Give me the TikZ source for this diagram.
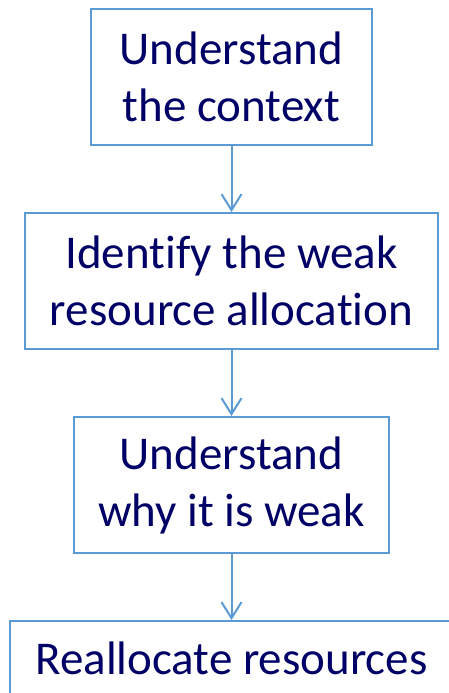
\documentclass[tikz,border=0pt]{standalone}
\usepackage{fontspec}
\setmainfont[Ligatures={NoCommon}]{Carlito}
\usepackage{tikz}
\usepackage{xcolor}
\usetikzlibrary{positioning,arrows.meta}
\definecolor{stepline}{HTML}{5B9BD5}
\definecolor{steptext}{HTML}{000066}
\tikzset{
    step-box/.style = {draw=stepline, line width=2pt, rectangle, minimum height=136pt, inner sep=0pt, align=center, text=steptext, font=\fontsize{47}{57}\selectfont},
    step-arrow/.style = {draw=stepline, line width=2pt, -{Straight Barb[length=16pt,width=20pt]}},
}

\begin{document}
\begin{tikzpicture}[x=1pt, y=-1pt]
\useasboundingbox (0,0) rectangle (448,693);
\node [step-box, minimum width=281pt] (context) at (231.5,77) {Understand\\the context};
\node [step-box, minimum width=413pt, below=66pt of context] (weak) {Identify the weak\\resource allocation};
\node [step-box, minimum width=315pt, below=66pt of weak] (why) {Understand\\why it is weak};
\node [step-box, minimum width=443pt, text height=34pt, text depth=64pt, below=66pt of why] (realloc) {Reallocate resources};
\draw [step-arrow] (context) -- (weak);
\draw [step-arrow] (weak) -- (why);
\draw [step-arrow] (why) -- (realloc);
\end{tikzpicture}
\end{document}
